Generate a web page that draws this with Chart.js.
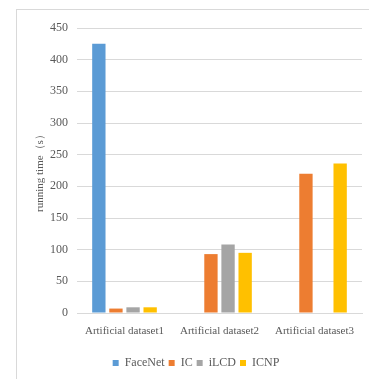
<!DOCTYPE html>
<html>
<head>
<meta charset="utf-8">
<script src="https://cdn.jsdelivr.net/npm/chart.js@4"></script>
<style>
  html, body { margin: 0; padding: 0; background: #fff; }
  #wrap { position: relative; width: 369px; height: 379px; overflow: hidden; }
  #frame { position: absolute; left: 16px; top: 9px; width: 400px; height: 400px; border: 1px solid #d9d9d9; }
  #myChart { position: absolute; left: 0; top: 0; }
</style>
</head>
<body>
<div id="wrap">
  <div id="frame"></div>
  <canvas id="myChart" width="369" height="379"></canvas>
</div>
<script>
// running time per dataset, seconds
const datasetNames = ['Artificial dataset1', 'Artificial dataset2', 'Artificial dataset3'];
const faceNet = [425, null, null];
const ic = [7, 93, 220];
const ilcd = [9, 108, null];
const icnp = [9, 95, 236];

const serif = '"Liberation Serif", "Times New Roman", serif';
const grey = '#595959';

function series(label, data, color) {
    return {
        label: label,
        data: data,
        backgroundColor: color,
        borderColor: color,
        borderWidth: 0,
        categoryPercentage: 0.72,
        barPercentage: 0.78
    };
}

const ctx = document.getElementById('myChart');
const myChart = new Chart(ctx, {
    type: 'bar',
    data: {
        labels: datasetNames,
        datasets: [
            series('FaceNet', faceNet, '#5B9BD5'),
            series('IC', ic, '#ED7D31'),
            series('iLCD', ilcd, '#A5A5A5'),
            series('ICNP', icnp, '#FFC000')
        ]
    },
    options: {
        responsive: false,
        animation: false,
        layout: { padding: { top: 28, right: 7, left: 30, bottom: 0 } },
        plugins: {
            tooltip: { enabled: false },
            legend: {
                position: 'bottom',
                labels: {
                    boxWidth: 6,
                    boxHeight: 6,
                    padding: 4,
                    color: grey,
                    font: { family: serif, size: 12 }
                }
            }
        },
        scales: {
            x: {
                afterFit: function (scale) { scale.height = 40; },
                grid: { display: false, drawTicks: false },
                border: { color: '#d9d9d9' },
                ticks: {
                    color: grey,
                    padding: 12,
                    maxRotation: 0,
                    autoSkip: false,
                    font: { family: serif, size: 11 }
                }
            },
            y: {
                min: 0,
                max: 450,
                afterFit: function (scale) { scale.width = 47; },
                ticks: { stepSize: 50, color: grey, padding: 9, font: { family: serif, size: 12 } },
                grid: { color: '#d9d9d9', drawTicks: false },
                border: { display: false },
                title: {
                    display: true,
                    text: 'running time（s）',
                    color: grey,
                    padding: 4,
                    font: { family: serif, size: 11 }
                }
            }
        }
    }
});
</script>
</body>
</html>
